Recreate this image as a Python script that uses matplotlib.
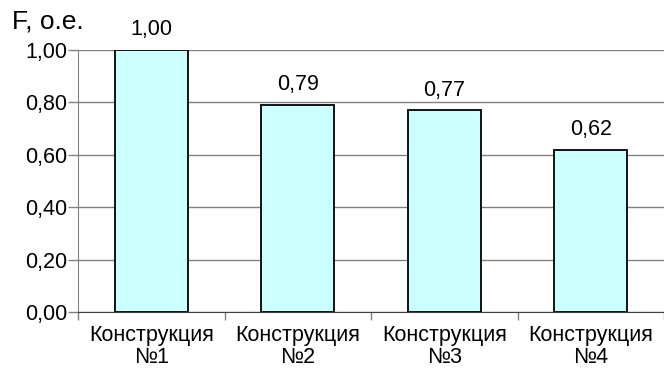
import matplotlib
matplotlib.use("Agg")
import matplotlib.pyplot as plt
from matplotlib.ticker import FixedLocator

plt.rcParams['font.family'] = ['Liberation Sans', 'DejaVu Sans']

categories = ["Конструкция\n№1", "Конструкция\n№2", "Конструкция\n№3", "Конструкция\n№4"]
values = [1.00, 0.79, 0.77, 0.62]
yticks = [0.0, 0.2, 0.4, 0.6, 0.8, 1.0]

FS = 15.5

fig = plt.figure(figsize=(6.64, 3.69), dpi=100)
ax = fig.add_axes([78 / 664, 1 - 312 / 369, 1 - 78 / 664, 262 / 369])

x = list(range(len(values)))
ax.bar(x, values, width=0.5, color="#CCFFFF", edgecolor="black", linewidth=1.3, zorder=3)

for xi, v in zip(x, values):
    ax.annotate(f"{v:.2f}".replace(".", ","), (xi, v), xytext=(0, 7),
                textcoords="offset points", ha="center", va="bottom", fontsize=FS)

ax.set_xlim(-0.5, len(values) - 0.5)
ax.set_ylim(0, 1.0)
ax.set_yticks(yticks)
ax.set_yticklabels([f"{t:.2f}".replace(".", ",") for t in yticks], fontsize=FS)
ax.yaxis.grid(True, color="#808080", linewidth=1.0, zorder=0)
ax.tick_params(axis="y", length=7, width=1, color="#808080", pad=1)

# category labels centred under bars, tick marks between categories
ax.set_xticks(x)
ax.set_xticklabels(categories, fontsize=FS, linespacing=1.08)
ax.tick_params(axis="x", which="major", length=0, pad=9)
ax.xaxis.set_minor_locator(FixedLocator([i - 0.5 for i in range(len(values) + 1)]))
ax.tick_params(axis="x", which="minor", length=6, width=1, color="#808080")

for s in ["top", "right"]:
    ax.spines[s].set_visible(False)
ax.spines["left"].set_color("#808080")
ax.spines["bottom"].set_color("#404040")

fig.text(12 / 664, 1 - 22 / 369, "F, o.e.", fontsize=19, va="center", ha="left")

fig.savefig("out.png", dpi=100)
